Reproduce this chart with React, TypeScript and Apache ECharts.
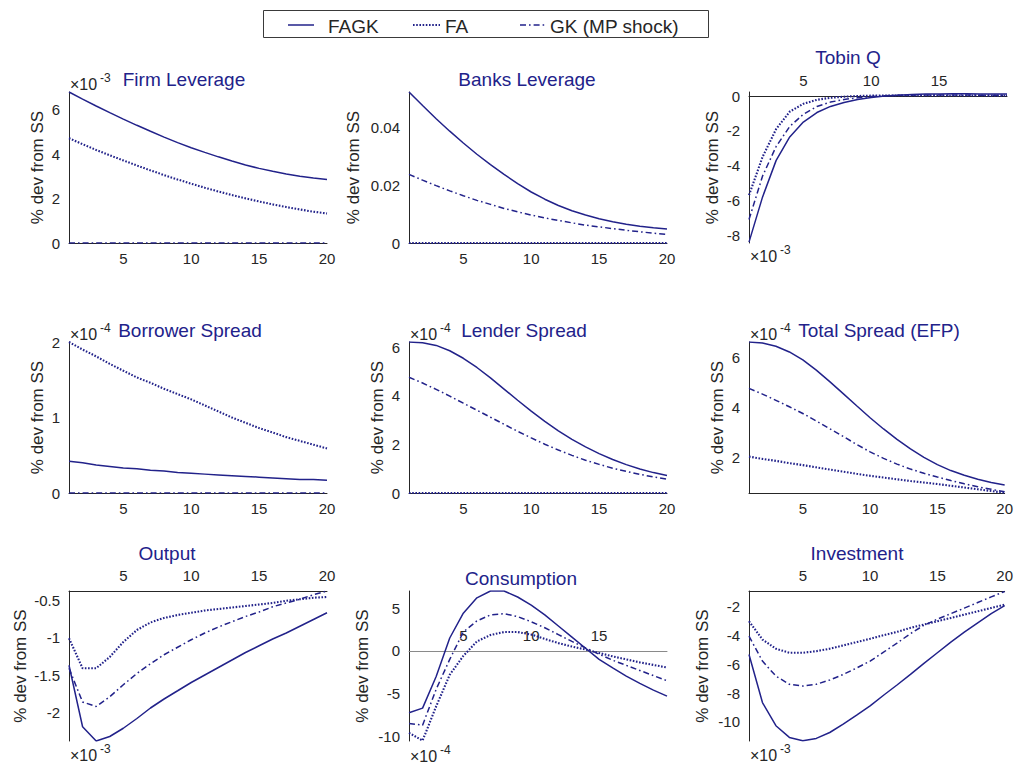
import React, { useEffect, useRef } from "react";
import * as echarts from "echarts";

// ---------- DATA ----------
const periods = [1, 2, 3, 4, 5, 6, 7, 8, 9, 10, 11, 12, 13, 14, 15, 16, 17, 18, 19, 20];
const seriesNames = ["FAGK", "FA", "GK (MP shock)"];

// Firm Leverage (x10^-3)
const firmLevFAGK = [6.80, 6.48, 6.17, 5.87, 5.58, 5.30, 5.03, 4.77, 4.52, 4.29, 4.08, 3.88, 3.69, 3.51, 3.36, 3.23, 3.11, 3.01, 2.93, 2.86];
const firmLevFA = [4.72, 4.45, 4.19, 3.95, 3.72, 3.49, 3.27, 3.06, 2.86, 2.67, 2.49, 2.32, 2.16, 2.01, 1.87, 1.74, 1.62, 1.51, 1.41, 1.33];
const firmLevGK = [0, 0, 0, 0, 0, 0, 0, 0, 0, 0, 0, 0, 0, 0, 0, 0, 0, 0, 0, 0];

// Banks Leverage
const bankLevFAGK = [0.0524, 0.0477, 0.0431, 0.0388, 0.0347, 0.0308, 0.0272, 0.0238, 0.0206, 0.0177, 0.0152, 0.0130, 0.0112, 0.0097, 0.0084, 0.0074, 0.0065, 0.0058, 0.0053, 0.0049];
const bankLevFA = [0, 0, 0, 0, 0, 0, 0, 0, 0, 0, 0, 0, 0, 0, 0, 0, 0, 0, 0, 0];
const bankLevGK = [0.0238, 0.0218, 0.0199, 0.0181, 0.0164, 0.0148, 0.0134, 0.0120, 0.0108, 0.0097, 0.0087, 0.0078, 0.0070, 0.0062, 0.0056, 0.0050, 0.0044, 0.0039, 0.0034, 0.0030];

// Tobin Q (x10^-3)
const tobinFAGK = [-8.40, -5.80, -3.70, -2.35, -1.50, -0.95, -0.60, -0.37, -0.20, -0.08, 0.00, 0.05, 0.09, 0.11, 0.12, 0.13, 0.13, 0.12, 0.12, 0.11];
const tobinFA = [-5.70, -3.50, -1.90, -0.90, -0.45, -0.22, -0.10, -0.04, 0.00, 0.02, 0.03, 0.03, 0.03, 0.03, 0.03, 0.03, 0.03, 0.03, 0.02, 0.02];
const tobinGK = [-7.10, -4.60, -2.90, -1.75, -1.05, -0.60, -0.35, -0.20, -0.10, -0.03, 0.02, 0.04, 0.05, 0.06, 0.06, 0.06, 0.06, 0.05, 0.05, 0.05];

// Borrower Spread (x10^-4)
const borrowFAGK = [0.42, 0.40, 0.37, 0.35, 0.33, 0.32, 0.30, 0.29, 0.27, 0.26, 0.25, 0.24, 0.23, 0.22, 0.21, 0.20, 0.19, 0.18, 0.18, 0.17];
const borrowFA = [2.00, 1.90, 1.81, 1.71, 1.62, 1.53, 1.46, 1.38, 1.31, 1.24, 1.16, 1.08, 1.00, 0.93, 0.86, 0.80, 0.74, 0.69, 0.64, 0.59];
const borrowGK = [0, 0, 0, 0, 0, 0, 0, 0, 0, 0, 0, 0, 0, 0, 0, 0, 0, 0, 0, 0];

// Lender Spread (x10^-4)
const lendFAGK = [6.22, 6.19, 6.08, 5.86, 5.55, 5.17, 4.74, 4.28, 3.82, 3.37, 2.95, 2.56, 2.21, 1.90, 1.62, 1.38, 1.17, 0.99, 0.84, 0.72];
const lendFA = [0, 0, 0, 0, 0, 0, 0, 0, 0, 0, 0, 0, 0, 0, 0, 0, 0, 0, 0, 0];
const lendGK = [4.77, 4.53, 4.27, 3.99, 3.70, 3.41, 3.12, 2.83, 2.54, 2.27, 2.01, 1.77, 1.55, 1.35, 1.18, 1.02, 0.89, 0.77, 0.66, 0.57];

// Total Spread (EFP) (x10^-4)
const efpFAGK = [6.62, 6.58, 6.45, 6.22, 5.90, 5.49, 5.03, 4.55, 4.06, 3.58, 3.13, 2.71, 2.33, 1.99, 1.70, 1.46, 1.27, 1.11, 0.98, 0.88];
const efpFA = [2.02, 1.93, 1.85, 1.76, 1.68, 1.59, 1.50, 1.42, 1.33, 1.25, 1.18, 1.11, 1.04, 0.98, 0.92, 0.85, 0.78, 0.71, 0.64, 0.57];
const efpGK = [4.76, 4.53, 4.28, 4.02, 3.75, 3.45, 3.14, 2.83, 2.51, 2.21, 1.95, 1.72, 1.52, 1.35, 1.20, 1.06, 0.93, 0.81, 0.71, 0.61];

// Output (x10^-3)
const outFAGK = [-1.37, -2.19, -2.38, -2.32, -2.21, -2.08, -1.94, -1.82, -1.71, -1.60, -1.50, -1.40, -1.30, -1.20, -1.11, -1.02, -0.94, -0.85, -0.76, -0.67];
const outFA = [-1.01, -1.41, -1.41, -1.26, -1.06, -0.90, -0.80, -0.74, -0.70, -0.67, -0.64, -0.62, -0.60, -0.58, -0.56, -0.54, -0.51, -0.49, -0.47, -0.46];
const outGK = [-1.41, -1.86, -1.92, -1.79, -1.63, -1.48, -1.35, -1.23, -1.13, -1.03, -0.94, -0.86, -0.79, -0.72, -0.66, -0.59, -0.54, -0.49, -0.43, -0.38];

// Consumption (x10^-4)
const consFAGK = [-7.25, -6.70, -3.00, 1.50, 4.40, 6.20, 7.00, 7.00, 6.30, 5.35, 4.20, 2.90, 1.60, 0.30, -1.00, -2.00, -2.95, -3.80, -4.60, -5.30];
const consFA = [-9.60, -10.50, -6.50, -2.80, -0.60, 1.10, 1.85, 2.20, 2.20, 1.90, 1.40, 0.90, 0.50, 0.15, -0.25, -0.65, -1.00, -1.35, -1.65, -1.95];
const consGK = [-8.50, -8.70, -4.50, -1.00, 2.20, 3.50, 4.20, 4.35, 4.00, 3.40, 2.70, 1.90, 1.10, 0.35, -0.40, -1.10, -1.70, -2.30, -2.90, -3.50];

// Investment (x10^-3)
const invFAGK = [-5.31, -8.65, -10.26, -11.07, -11.30, -11.14, -10.73, -10.15, -9.52, -8.88, -8.14, -7.43, -6.69, -5.93, -5.19, -4.45, -3.76, -3.11, -2.47, -1.92];
const invFA = [-3.00, -4.27, -4.91, -5.19, -5.19, -5.08, -4.91, -4.68, -4.45, -4.22, -3.97, -3.74, -3.46, -3.23, -3.00, -2.77, -2.54, -2.31, -2.08, -1.85];
const invGK = [-4.04, -5.77, -6.81, -7.38, -7.50, -7.38, -7.08, -6.70, -6.25, -5.77, -5.15, -4.52, -3.86, -3.28, -2.86, -2.47, -2.09, -1.70, -1.31, -0.93];

const xTicksFull = [5, 10, 15, 20];
const xTicksShort = [5, 10, 15];

const panels = [
  { title: "Firm Leverage", lines: [firmLevFAGK, firmLevFA, firmLevGK], yMin: 0, yMax: 6.8, yTicks: [0, 2, 4, 6], xTicks: xTicksFull, exponent: "-3" },
  { title: "Banks Leverage", lines: [bankLevFAGK, bankLevFA, bankLevGK], yMin: 0, yMax: 0.0524, yTicks: [0, 0.02, 0.04], xTicks: xTicksFull, exponent: "" },
  { title: "Tobin Q", lines: [tobinFAGK, tobinFA, tobinGK], yMin: -8.45, yMax: 0.23, yTicks: [-8, -6, -4, -2, 0], xTicks: xTicksShort, exponent: "-3" },
  { title: "Borrower Spread", lines: [borrowFAGK, borrowFA, borrowGK], yMin: 0, yMax: 2.0, yTicks: [0, 1, 2], xTicks: xTicksFull, exponent: "-4" },
  { title: "Lender Spread", lines: [lendFAGK, lendFA, lendGK], yMin: 0, yMax: 6.22, yTicks: [0, 2, 4, 6], xTicks: xTicksFull, exponent: "-4" },
  { title: "Total Spread (EFP)", lines: [efpFAGK, efpFA, efpGK], yMin: 0.56, yMax: 6.62, yTicks: [2, 4, 6], xTicks: xTicksFull, exponent: "-4" },
  { title: "Output", lines: [outFAGK, outFA, outGK], yMin: -2.38, yMax: -0.38, yTicks: [-2, -1.5, -1, -0.5], xTicks: xTicksFull, exponent: "-3" },
  { title: "Consumption", lines: [consFAGK, consFA, consGK], yMin: -10.55, yMax: 7.0, yTicks: [-10, -5, 0, 5], xTicks: xTicksShort, exponent: "-4" },
  { title: "Investment", lines: [invFAGK, invFA, invGK], yMin: -11.32, yMax: -0.9, yTicks: [-10, -8, -6, -4, -2], xTicks: xTicksFull, exponent: "-3" },
];

// ---------- LAYOUT / STYLE ----------
const COL_LEFT = [69, 409, 749];
const COL_WIDTH = 258;
const ROWS = [
  { top: 92, height: 151 },
  { top: 342, height: 151 },
  { top: 591, height: 150 },
];
const layout = [
  { xPos: "bottom", nameGap: 23, titleX: 184, titleY: 79, expX: 70, expY: 84 },
  { xPos: "bottom", nameGap: 47, titleX: 527, titleY: 79, expX: 0, expY: 0 },
  { xPos: "top", nameGap: 28, titleX: 848, titleY: 57, expX: 750, expY: 256 },
  { xPos: "bottom", nameGap: 23, titleX: 190, titleY: 330, expX: 70, expY: 334 },
  { xPos: "bottom", nameGap: 23, titleX: 524, titleY: 330, expX: 410, expY: 334 },
  { xPos: "bottom", nameGap: 23, titleX: 879, titleY: 330, expX: 750, expY: 334 },
  { xPos: "top", nameGap: 40, titleX: 167, titleY: 553, expX: 70, expY: 755 },
  { xPos: "top", nameGap: 38, titleX: 521, titleY: 578, expX: 410, expY: 756 },
  { xPos: "top", nameGap: 38, titleX: 857, titleY: 553, expX: 750, expY: 755 },
];

const FONT = "'Liberation Sans', Arial, Helvetica, sans-serif";
const NAVY = "#22228a";
const AXIS = "#262626";
const lineStyles = [
  { type: "solid", width: 1.5 },
  { type: [1.6, 1.6], width: 2.1 },
  { type: [6, 3, 1.6, 3], width: 1.5 },
];

function buildOption() {
  const grid: any[] = [];
  const xAxis: any[] = [];
  const yAxis: any[] = [];
  const series: any[] = [];
  const graphic: any[] = [];

  panels.forEach((p, i) => {
    const L = layout[i];
    const row = ROWS[Math.floor(i / 3)];
    grid.push({ left: COL_LEFT[i % 3], top: row.top, width: COL_WIDTH, height: row.height, containLabel: false });
    // x-axis sits on the zero line when zero lies inside the y range (MATLAB "origin" style)
    let offset = 0;
    if (L.xPos === "top" && p.yMin < 0 && p.yMax > 0) {
      offset = -(row.height * p.yMax) / (p.yMax - p.yMin);
    }
    xAxis.push({
      type: "value",
      gridIndex: i,
      min: 1,
      max: 20,
      position: L.xPos,
      offset,
      axisLine: { show: true, onZero: false, lineStyle: { color: i === 7 ? "#8a8a8a" : AXIS, width: 1 } },
      axisTick: { show: false, customValues: p.xTicks },
      axisLabel: { customValues: p.xTicks, color: AXIS, fontSize: 15, fontFamily: FONT, margin: 8 },
      splitLine: { show: false },
    });
    yAxis.push({
      type: "value",
      gridIndex: i,
      min: p.yMin,
      max: p.yMax,
      name: "% dev from SS",
      nameLocation: "middle",
      nameRotate: 90,
      nameGap: L.nameGap,
      nameTextStyle: { color: AXIS, fontSize: 17, fontFamily: FONT },
      axisLine: { show: true, onZero: false, lineStyle: { color: AXIS, width: 1 } },
      axisTick: { show: false, customValues: p.yTicks },
      axisLabel: { customValues: p.yTicks, color: AXIS, fontSize: 15, fontFamily: FONT, margin: 9 },
      splitLine: { show: false },
    });
    p.lines.forEach((vals, k) => {
      series.push({
        type: "line",
        name: seriesNames[k],
        xAxisIndex: i,
        yAxisIndex: i,
        symbol: "none",
        data: periods.map((x, j) => [x, vals[j]]),
        lineStyle: { color: NAVY, ...lineStyles[k] },
        z: 3 + k,
      });
    });
    graphic.push({
      type: "text",
      x: L.titleX,
      y: L.titleY,
      style: { text: p.title, fill: NAVY, font: `19px ${FONT}`, textAlign: "center", textVerticalAlign: "middle" },
    });
    if (p.exponent) {
      graphic.push({
        type: "text",
        x: L.expX,
        y: L.expY,
        style: { text: "×10", fill: AXIS, font: `16px ${FONT}`, textAlign: "left", textVerticalAlign: "middle" },
      });
      graphic.push({
        type: "text",
        x: L.expX + 30,
        y: L.expY - 6,
        style: { text: p.exponent, fill: AXIS, font: `12px ${FONT}`, textAlign: "left", textVerticalAlign: "middle" },
      });
    }
  });

  // legend box
  const legendY = 25;
  const legendItems = [
    { x1: 288, x2: 314, tx: 328, dash: null as any, w: 1.5 },
    { x1: 413, x2: 440, tx: 445, dash: [1.6, 1.6], w: 2.1 },
    { x1: 520, x2: 547, tx: 550, dash: [6, 3, 1.6, 3], w: 1.5 },
  ];
  graphic.push({
    type: "rect",
    shape: { x: 263.5, y: 10.5, width: 445, height: 27 },
    style: { fill: "#fff", stroke: "#3a3a3a", lineWidth: 1 },
  });
  legendItems.forEach((it, k) => {
    graphic.push({
      type: "line",
      shape: { x1: it.x1, y1: legendY, x2: it.x2, y2: legendY },
      style: { stroke: NAVY, lineWidth: it.w, lineDash: it.dash || undefined },
    });
    graphic.push({
      type: "text",
      x: it.tx,
      y: legendY + 1,
      style: { text: seriesNames[k], fill: AXIS, font: `19px ${FONT}`, textAlign: "left", textVerticalAlign: "middle" },
    });
  });

  return {
    animation: false,
    backgroundColor: "#ffffff",
    grid,
    xAxis,
    yAxis,
    series,
    graphic,
  };
}

export default function App() {
  const ref = useRef<HTMLDivElement>(null);
  useEffect(() => {
    if (!ref.current) return;
    const chart = echarts.init(ref.current, null, { renderer: "svg" });
    chart.setOption(buildOption() as any);
    return () => chart.dispose();
  }, []);
  return (
    <div
      ref={ref}
      style={{ position: "fixed", left: 0, top: 0, width: 1016, height: 764, background: "#fff" }}
    />
  );
}
